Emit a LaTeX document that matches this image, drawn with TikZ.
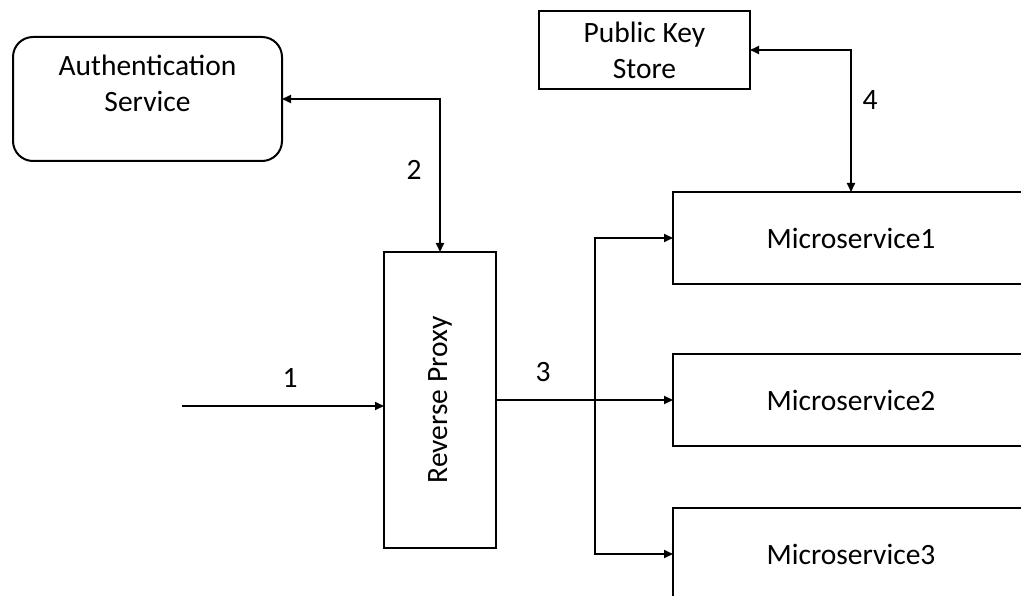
\documentclass[tikz,border=0pt]{standalone}
\usepackage{fontspec}
\setmainfont{Carlito}
\usetikzlibrary{arrows.meta}
\begin{document}
\begin{tikzpicture}[x=1pt,y=-1pt,
  box/.style={draw, line width=2pt, inner sep=0pt, outer sep=0pt},
  txt/.style={inner sep=0pt, align=center, font=\fontsize{29.5}{36}\selectfont},
  num/.style={inner sep=0pt, font=\fontsize{29.5}{36}\selectfont},
  link/.style={line width=1.8pt},
  tip/.style={link, -{Triangle[length=9pt,width=8pt]}},
  bitip/.style={link, {Triangle[length=9pt,width=8pt]}-{Triangle[length=9pt,width=8pt]}}]
  \useasboundingbox (0,0) rectangle (1021,596);

  % service boxes
  \node[box, rounded corners=20pt, minimum width=269pt, minimum height=124pt] (auth) at (147.5,99) {};
  \node[txt] (authtxt) at (147.5,83) {Authentication\\Service};
  \node[box, minimum width=211pt, minimum height=78pt] (pks) at (644.5,50) {};
  \node[txt] (pkstxt) at (pks.center) {Public Key\\Store};
  \node[box, minimum width=112pt, minimum height=296pt] (rp) at (440,400) {};
  \node[txt, rotate=90] (rptxt) at (rp.center) {Reverse Proxy};
  \node[box, minimum width=356pt, minimum height=92pt] (ms1) at (851,238) {};
  \node[txt] (ms1txt) at (ms1.center) {Microservice1};
  \node[box, minimum width=356pt, minimum height=92pt] (ms2) at (851,400) {};
  \node[txt] (ms2txt) at (ms2.center) {Microservice2};
  \node[box, minimum width=356pt, minimum height=92pt] (ms3) at (851,554) {};
  \node[txt] (ms3txt) at (ms3.center) {Microservice3};

  % connectors
  \coordinate (in) at (182,406);
  \coordinate (split) at (595,400);
  \draw[tip] (in) -- (in -| rp.west);
  \draw[bitip] (auth.east) -| (rp.north);
  \draw[bitip] (pks.east) -| (ms1.north);
  \draw[link] (rp.east) -- (split);
  \draw[tip] (split) |- (ms1.west);
  \draw[tip] (split) -- (ms2.west);
  \draw[tip] (split) |- (ms3.west);

  % step numbers
  \node[num] (n1) at (290,378) {1};
  \node[num] (n2) at (414,170) {2};
  \node[num] (n3) at (543,372) {3};
  \node[num] (n4) at (870,100) {4};
\end{tikzpicture}
\end{document}
